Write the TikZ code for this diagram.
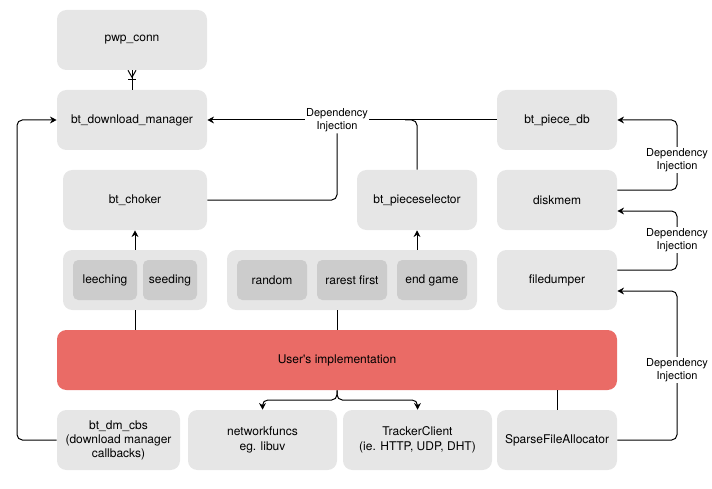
\documentclass[tikz,border=0pt]{standalone}
\usepackage{fontspec}
\setmainfont{TeX Gyre Heros}
\usetikzlibrary{arrows.meta,calc}
\definecolor{boxgray}{HTML}{E6E6E6}
\definecolor{innergray}{HTML}{CCCCCC}
\definecolor{userred}{HTML}{EA6B66}
\tikzset{
  box/.style={rectangle, rounded corners=7pt, fill=boxgray, draw=none,
    minimum height=45pt, align=center, font=\fontsize{9}{11}\selectfont, inner sep=0pt},
  innerbox/.style={rectangle, rounded corners=4pt, fill=innergray, draw=none,
    minimum height=30pt, align=center, font=\fontsize{9}{11}\selectfont, inner sep=0pt},
  userbox/.style={box, fill=userred},
  dilabel/.style={fill=white, align=center, inner sep=1pt,
    font=\fontsize{8.25}{10}\selectfont},
  conn/.style={line width=0.75pt, black},
  arr/.style={conn, -{Stealth[length=5pt,width=5pt,inset=1.6pt]}},
}
\begin{document}
\begin{tikzpicture}[x=0.75pt, y=-0.75pt]
\useasboundingbox (0,0) rectangle (712,488);

% upper column
\node[box, minimum width=112.5pt] (pwp) at (132,40) {pwp\_conn};
\node[box, minimum width=112.5pt] (dm) at (132,120) {bt\_download\_manager};
\node[box, minimum width=108pt] (choker) at (135,200) {bt\_choker};
\node[box, minimum width=90pt] (ps) at (417,200) {bt\_pieceselector};

% storage column
\node[box, minimum width=90pt] (pdb) at (557,120) {bt\_piece\_db};
\node[box, minimum width=90pt] (disk) at (557,200) {diskmem};
\node[box, minimum width=90pt] (fd) at (557,280) {filedumper};

% strategy groups
\node[box, minimum width=108pt] (cgroup) at (135,280) {};
\node[innerbox, minimum width=48pt] (leech) at (105,280) {leeching};
\node[innerbox, minimum width=40.5pt] (seed) at (170,280) {seeding};
\node[box, minimum width=187.5pt] (sgroup) at (352,280) {};
\node[innerbox, minimum width=52.5pt] (rand) at (272,280) {random};
\node[innerbox, minimum width=52.5pt] (rare) at (352,280) {rarest first};
\node[innerbox, minimum width=52.5pt] (endg) at (432,280) {end game};

% user layer
\node[userbox, minimum width=420pt] (user) at (337,360) {User\textquotesingle s implementation};

% bottom row
\node[box, minimum width=92.25pt, font=\fontsize{9}{10.5}\selectfont] (cbs) at (118.5,440) {bt\_dm\_cbs\\(download manager\\callbacks)};
\node[box, minimum width=111.75pt] (net) at (262.5,440) {networkfuncs\\eg. libuv};
\node[box, minimum width=111.75pt] (trk) at (417.5,440) {TrackerClient\\(ie. HTTP, UDP, DHT)};
\node[box, minimum width=90pt] (sfa) at (557,440) {SparseFileAllocator};

% pwp_conn -- bt_download_manager (one to many)
\draw[conn] (pwp.south) -- (dm.north);
\draw[conn] ($(pwp.south)+(-4,0)$) -- ($(pwp.south)+(0,7)$) -- ($(pwp.south)+(4,0)$);
\draw[conn] ($(pwp.south)+(-4,9)$) -- ($(pwp.south)+(4,9)$);

% dependency injection into the download manager
\draw[arr] (pdb.west) -- (dm.east);
\node[dilabel] (di1) at (337,120) {Dependency\\Injection};
\draw[conn, rounded corners=4pt] (choker.east) -| (di1.south);
\coordinate (psj) at ($(ps.north |- dm.east)+(-12,0)$);
\draw[conn, rounded corners=4pt] (ps.north) |- (psj);

% dependency injection along the storage column
\coordinate (rail) at (677,0);
\coordinate (dkout) at ($(disk.east)+(0,-10)$);
\coordinate (dkin) at ($(disk.east)+(0,11)$);
\coordinate (fdout) at ($(fd.east)+(0,-10)$);
\coordinate (fdin) at ($(fd.east)+(0,11)$);
\draw[arr, rounded corners=4pt] (dkout) -| (rail |- pdb.east) -- (pdb.east);
\draw[arr, rounded corners=4pt] (fdout) -| (rail |- dkin) -- (dkin);
\draw[arr, rounded corners=4pt] (sfa.east) -| (rail |- fdin) -- (fdin);
\node[dilabel] (di2) at (677,160) {Dependency\\Injection};
\node[dilabel] (di3) at (677,240) {Dependency\\Injection};
\node[dilabel] (di4) at (677,370) {Dependency\\Injection};

% callbacks back to the download manager
\coordinate (lrail) at (17,0);
\draw[arr, rounded corners=4pt] (cbs.west) -| (lrail |- dm.west) -- (dm.west);

% strategies into their owners
\draw[arr] (cgroup.north) -- (choker.south);
\draw[arr] (sgroup.north -| ps.south) -- (ps.south);

% user's implementation ties
\draw[conn] (user.north -| cgroup.south) -- (cgroup.south);
\draw[conn] (user.north) -- (user.north |- sgroup.south);
\draw[conn] (sfa.north) -- (sfa.north |- user.south);
\coordinate (uj) at (337,400);
\draw[arr, rounded corners=4pt] (user.south) |- (net.north |- uj) -- (net.north);
\draw[arr, rounded corners=4pt] (user.south) |- (trk.north |- uj) -- (trk.north);
\end{tikzpicture}
\end{document}
